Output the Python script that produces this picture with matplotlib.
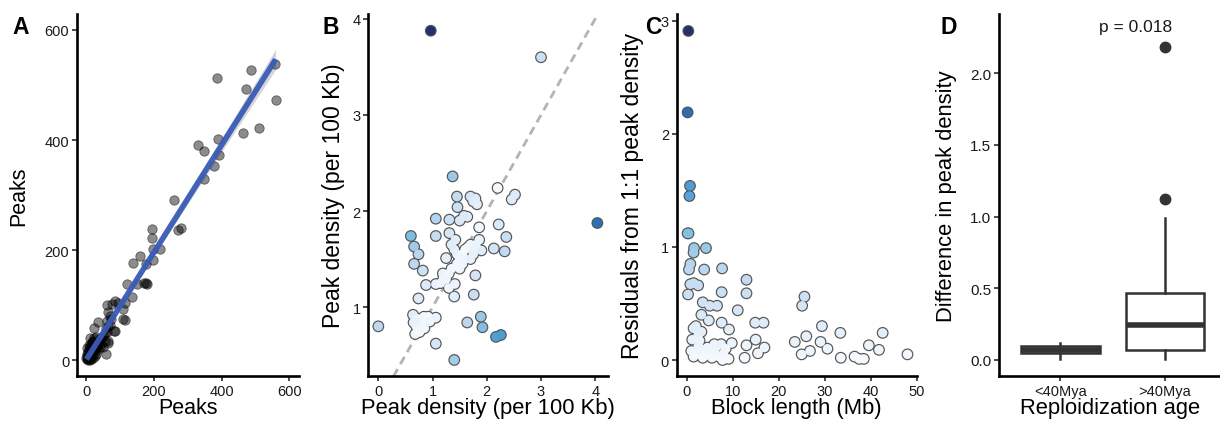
import numpy as np
import matplotlib
matplotlib.use('Agg')
import matplotlib.pyplot as plt
from matplotlib.colors import LinearSegmentedColormap, Normalize

plt.rcParams['font.family'] = ['Liberation Sans', 'DejaVu Sans']

# ---- panel A: peaks vs peaks ----
a_x = [558, 486, 388, 473, 560, 511, 463, 391, 332, 349, 393, 379, 348, 260, 281, 271,
       195, 195, 217, 199, 197, 177, 160, 137, 178, 172, 181, 150, 120, 135, 115, 110,
       86, 61, 71, 63, 84, 36, 22, 59, 66, 95, 76, 110, 66, 115, 61, 81, 66,
       65, 70, 60, 72, 55, 50, 45,
       2, 5, 8, 10, 12, 15, 18, 20, 22, 25, 28, 30, 32, 35, 38, 40, 3, 6, 9, 12, 15,
       18, 20, 24, 28, 10, 14, 20, 25, 30, 4, 8, 2, 16, 26, 34, 42, 45, 50, 55, 12, 6, 1]
a_y = [538, 528, 512, 493, 473, 422, 413, 402, 391, 381, 373, 353, 329, 291, 241, 237,
       238, 223, 202, 202, 182, 175, 190, 176, 140, 140, 139, 138, 138, 115, 104, 75,
       108, 101, 81, 52, 53, 70, 59, 11, 32, 105, 102, 93, 87, 73, 71, 53, 35,
       62, 65, 58, 75, 50, 45, 40,
       2, 3, 6, 4, 9, 12, 14, 10, 18, 20, 22, 25, 28, 30, 35, 38, 8, 15, 20, 25, 30,
       33, 36, 40, 42, 0, 2, 5, 8, 12, 22, 28, 12, 22, 30, 20, 25, 30, 25, 35, 40, 0, 5]

# ---- panel B: peak density vs peak density ----
b_x = [0.967, 3.0, 4.04, 0.0, 1.37, 1.45, 1.46, 1.06, 1.31, 1.06, 1.31, 0.60, 0.66, 0.74,
       0.66, 0.82, 0.88, 0.74, 1.40, 1.76, 1.79, 1.25, 1.06, 1.19, 1.25, 1.41, 2.20, 2.52,
       2.46, 1.79, 1.70, 1.64, 1.86, 2.22, 2.36, 2.13, 2.33, 1.86, 1.90, 1.06, 1.40, 1.64,
       1.89, 1.92, 2.17, 2.26,
       1.45, 1.50, 1.55, 1.60, 1.65, 1.70, 1.75, 1.50, 1.55, 1.60, 1.45, 1.40, 1.35, 1.42,
       1.70, 1.75, 1.80, 1.30, 1.35, 1.20, 1.15, 1.30, 1.50, 1.58, 1.75, 1.82, 1.48,
       0.64, 0.72, 0.84, 0.92, 1.06, 0.70, 0.80, 0.95, 0.68, 0.76, 0.85, 0.72, 0.65]
b_y = [3.876, 3.6, 1.875, 0.80, 2.36, 2.15, 2.04, 1.92, 1.91, 1.74, 1.77, 1.74, 1.63, 1.55,
       1.45, 1.38, 1.23, 1.09, 1.11, 1.13, 1.33, 1.51, 1.24, 1.35, 1.29, 1.24, 2.24, 2.17,
       2.12, 2.13, 2.15, 1.94, 1.83, 1.86, 1.73, 1.61, 1.58, 1.70, 1.59, 0.62, 0.45, 0.84,
       0.90, 0.79, 0.69, 0.71,
       1.45, 1.50, 1.55, 1.60, 1.62, 1.65, 1.60, 1.40, 1.45, 1.50, 1.55, 1.60, 1.65, 1.70,
       1.50, 1.55, 1.65, 1.35, 1.40, 1.30, 1.25, 1.20, 1.90, 1.95, 2.10, 2.07, 1.42,
       0.92, 0.88, 0.90, 0.90, 0.89, 0.80, 0.84, 0.85, 0.72, 0.74, 0.78, 0.85, 0.84]

# ---- panel C: residuals vs block length ----
c_len = [0.36, 0.2, 0.72, 0.6, 0.2, 0.4, 1.6, 4.2, 1.5, 0.8, 0.5, 3.8, 7.7, 0.8, 2.5, 1.5,
         13.0, 13.0, 7.6, 0.3, 3.5, 5.0, 6.6, 11.1, 25.6, 25.1, 3.2, 4.8, 7.6, 14.9, 16.7,
         9.2, 1.5, 2.5, 3.2, 2.0, 29.4, 26.0, 33.4, 42.6, 23.5, 29.1, 30.6, 15.0, 13.0,
         15.5, 16.9, 12.6, 9.8, 9.1, 25.0, 26.8, 33.5, 36.5, 37.5, 38.5, 39.6, 41.8, 48.0,
         1.0, 2.0, 3.0, 4.0, 5.0, 6.0, 7.0, 8.0, 2.5, 4.5, 6.5, 7.5, 8.5, 1.5, 3.5, 5.5,
         6.0, 7.8, 1.2, 2.8]
c_res = [2.91, 2.19, 1.54, 1.45, 1.12, 1.12, 0.99, 0.99, 0.95, 0.85, 0.80, 0.80, 0.81, 0.67,
         0.66, 0.68, 0.71, 0.59, 0.60, 0.58, 0.51, 0.48, 0.48, 0.44, 0.56, 0.48, 0.40, 0.35,
         0.33, 0.33, 0.33, 0.27, 0.28, 0.22, 0.25, 0.30, 0.30, 0.21, 0.24, 0.24, 0.16, 0.16,
         0.10, 0.18, 0.13, 0.06, 0.11, 0.02, 0.15, 0.01, 0.05, 0.08, 0.02, 0.03, 0.01, 0.01,
         0.13, 0.09, 0.05,
         0.08, 0.05, 0.10, 0.06, 0.04, 0.08, 0.03, 0.06, 0.12, 0.11, 0.12, 0.14, 0.10, 0.03,
         0.02, 0.02, 0.14, 0.00, 0.18, 0.17]

# ---- panel D: boxplot summary ----
d_groups = ['<40Mya', '>40Mya']
d_q1 = [0.05, 0.07]
d_med = [0.07, 0.246]
d_q3 = [0.10, 0.467]
d_lo = [0.007, 0.007]
d_hi = [0.116, 0.99]
d_fliers = [[], [1.123, 2.186]]
d_ptext = 'p = 0.018'

W, H = 1220, 427
fig = plt.figure(figsize=(W / 100, H / 100), dpi=100)
TXT = '#1a1a1a'

def add_ax(left, right, top=15, bottom=377.3):
    return fig.add_axes([left / W, 1 - bottom / H, (right - left) / W, (bottom - top) / H])

def style(ax, size=10.5):
    for s in ['top', 'right']:
        ax.spines[s].set_visible(False)
    for s in ['left', 'bottom']:
        ax.spines[s].set_linewidth(1.9)
    ax.tick_params(direction='out', length=3.5, width=1.1, labelsize=size,
                   colors=TXT, pad=2)

cmap = LinearSegmentedColormap.from_list('res', [
    (0.0, '#f5f9fe'), (0.28, '#bcd6f0'), (0.38, '#84c1e1'),
    (0.52, '#4f9fd6'), (0.76, '#2a6db5'), (1.0, '#22306e')])
norm = Normalize(0, 2.91)

def outlined(ax, x, y, vals):
    # outline layer first, then fills on top so overlapping outlines merge
    cols = cmap(norm(np.asarray(vals)))
    ax.scatter(x, y, s=46, c=cols, edgecolors='#555555', linewidths=1.7,
               zorder=2, snap=False)
    ax.scatter(x, y, s=46, c=cols, linewidths=0, zorder=3, snap=False)

# A
axA = add_ax(77, 299)
ax_ = np.array(a_x, float); ay_ = np.array(a_y, float)
k, b0 = np.polyfit(ax_, ay_, 1)
xs = np.linspace(ax_.min(), ax_.max(), 100)
n = len(ax_)
resid = ay_ - (k * ax_ + b0)
s = np.sqrt((resid ** 2).sum() / (n - 2))
se = s * np.sqrt(1 / n + (xs - ax_.mean()) ** 2 / ((ax_ - ax_.mean()) ** 2).sum())
axA.fill_between(xs, k * xs + b0 - 1.98 * se, k * xs + b0 + 1.98 * se,
                 color='#999999', alpha=0.4, lw=0, zorder=1)
axA.scatter(ax_, ay_, s=46, facecolor=(0, 0, 0, 0.45), edgecolor=(0, 0, 0, 0.5),
            linewidths=0.6, zorder=2)
axA.plot(xs, k * xs + b0, color='#3a5cb8', lw=4, alpha=0.95, zorder=3,
         solid_capstyle='butt')
axA.set_xlim(-27, 629)
axA.set_ylim(-29, 629)
axA.set_xticks([0, 200, 400, 600])
axA.set_yticks([0, 200, 400, 600])
axA.set_xlabel('Peaks', fontsize=15.5)
axA.set_ylabel('Peaks', fontsize=15.5)
style(axA)

# B
axB = add_ax(368.3, 607.7)
bx = np.array(b_x); by = np.array(b_y)
ln = np.array([0.28, 4.05])
axB.plot(ln, ln, ls=(0, (3, 2)), color='#b3b3b3', lw=2, zorder=1)
outlined(axB, bx, by, np.abs(by - bx))
axB.set_xlim(-0.185, 4.23)
axB.set_ylim(0.28, 4.05)
axB.set_xticks([0, 1, 2, 3, 4])
axB.set_yticks([1, 2, 3, 4])
axB.set_xlabel('Peak density (per 100 Kb)', fontsize=15.8)
axB.set_ylabel('Peak density (per 100 Kb)', fontsize=16.5)
style(axB)

# C
axC = add_ax(676.7, 916.7)
outlined(axC, c_len, c_res, c_res)
axC.set_xlim(-2.17, 50.0)
axC.set_ylim(-0.144, 3.06)
axC.set_xticks([0, 10, 20, 30, 40, 50])
axC.set_yticks([0, 1, 2, 3])
axC.set_xlabel('Block length (Mb)', fontsize=15.8)
axC.set_ylabel('Residuals from 1:1 peak density', fontsize=16.5)
style(axC)

# D
axD = add_ax(999, 1222)
stats = []
for i in range(2):
    stats.append(dict(q1=d_q1[i], med=d_med[i], q3=d_q3[i], whislo=d_lo[i],
                      whishi=d_hi[i], fliers=d_fliers[i], label=d_groups[i]))
lc = '#333333'
axD.bxp(stats, positions=[1, 2], widths=0.75, showfliers=True, patch_artist=True,
        boxprops=dict(facecolor='white', edgecolor=lc, linewidth=1.8),
        medianprops=dict(color=lc, linewidth=4),
        whiskerprops=dict(color=lc, linewidth=1.8),
        capprops=dict(linewidth=0),
        flierprops=dict(marker='o', markerfacecolor=lc, markeredgecolor=lc,
                        markersize=7.5))
axD.set_xlim(0.41, 2.55)
axD.set_ylim(-0.114, 2.414)
axD.set_yticks([0, 0.5, 1.0, 1.5, 2.0])
axD.set_yticklabels(['0.0', '0.5', '1.0', '1.5', '2.0'])
axD.set_xticks([1, 2])
axD.set_xticklabels(d_groups)
axD.text(1.72, 2.33, d_ptext, ha='center', va='center', fontsize=12.5, color=TXT)
axD.set_xlabel('Reploidization age', fontsize=15.8)
axD.set_ylabel('Difference in peak density', fontsize=15.8)
style(axD, 11)
axD.tick_params(axis='x', labelsize=10.5)

# label positions (right edge of rotated y labels, top of x labels)
for a, l, r, ylx in [(axA, 77, 299, 29), (axB, 368.3, 607.7, 345),
                     (axC, 676.7, 916.7, 644), (axD, 999, 1222, 956.7)]:
    a.yaxis.set_label_coords((ylx - l) / (r - l), 0.5)
    a.xaxis.set_label_coords(0.5, (377.3 - 398) / 362.3)

for lab, xp in [('A', 12), ('B', 322), ('C', 645), ('D', 940)]:
    fig.text(xp / W, 1 - 34 / H, lab, fontsize=16.5, fontweight='bold',
             ha='left', va='baseline')

fig.savefig('out.png', dpi=100)
